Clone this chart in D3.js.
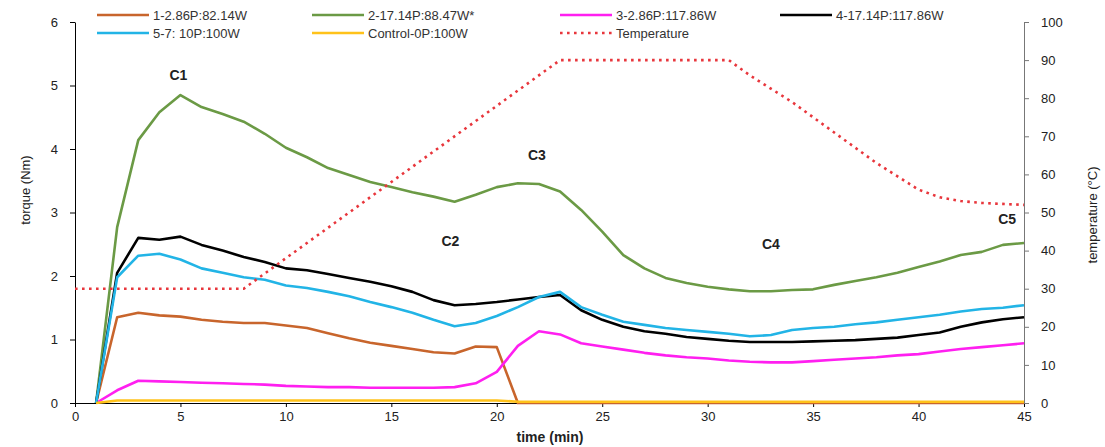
<!DOCTYPE html>
<html>
<head>
<meta charset="utf-8">
<script src="https://cdn.jsdelivr.net/npm/d3@7"></script>
<style>
  body { margin: 0; background: #fff; }
  text { font-family: "Liberation Sans", Arial, sans-serif; }
  .axis path, .axis line { stroke: #000; }
  .axis text { font-size: 13px; fill: #222; }
  .raxis path, .raxis line { stroke: #777; }
</style>
</head>
<body>
<div id="chart"></div>
<script>

// data (time in min, torque in Nm, temperature in °C)
const time = [1,2,3,4,5,6,7,8,9,10,11,12,13,14,15,16,17,18,19,20,21,22,23,24,25,26,27,28,29,30,31,32,33,34,35,36,37,38,39,40,41,42,43,44,45];

const s1 = [0,1.35,1.42,1.38,1.36,1.31,1.28,1.26,1.26,1.22,1.18,1.10,1.02,0.95,0.90,0.85,0.80,0.78,0.89,0.88,0,0,0,0,0,0,0,0,0,0,0,0,0,0,0,0,0,0,0,0,0,0,0,0,0];
const s2 = [0,2.77,4.14,4.58,4.85,4.66,4.55,4.43,4.24,4.02,3.87,3.70,3.59,3.48,3.40,3.32,3.25,3.17,3.28,3.40,3.46,3.45,3.33,3.04,2.70,2.33,2.12,1.97,1.89,1.83,1.79,1.76,1.76,1.78,1.79,1.86,1.92,1.98,2.05,2.14,2.23,2.33,2.38,2.49,2.52];
const s3 = [0,0.20,0.35,0.34,0.33,0.32,0.31,0.30,0.29,0.27,0.26,0.25,0.25,0.24,0.24,0.24,0.24,0.25,0.31,0.49,0.90,1.13,1.08,0.94,0.89,0.84,0.79,0.75,0.72,0.70,0.67,0.65,0.64,0.64,0.66,0.68,0.70,0.72,0.75,0.77,0.81,0.85,0.88,0.91,0.94];
const s4 = [0,2.05,2.60,2.57,2.62,2.49,2.40,2.30,2.22,2.12,2.09,2.03,1.97,1.91,1.84,1.75,1.62,1.54,1.56,1.59,1.63,1.67,1.70,1.46,1.31,1.20,1.13,1.09,1.04,1.01,0.98,0.96,0.96,0.96,0.97,0.98,0.99,1.01,1.03,1.07,1.11,1.20,1.27,1.32,1.35];
const s5 = [0,1.98,2.32,2.35,2.26,2.12,2.05,1.98,1.94,1.85,1.81,1.75,1.68,1.59,1.51,1.42,1.31,1.21,1.26,1.37,1.51,1.67,1.75,1.51,1.39,1.28,1.23,1.18,1.15,1.12,1.09,1.05,1.07,1.15,1.18,1.20,1.24,1.27,1.31,1.35,1.39,1.44,1.48,1.50,1.54];
const control = [0,0.04,0.04,0.04,0.04,0.04,0.04,0.04,0.04,0.04,0.04,0.04,0.04,0.04,0.04,0.04,0.04,0.04,0.04,0.04,0.02,0.02,0.02,0.02,0.02,0.02,0.02,0.02,0.02,0.02,0.02,0.02,0.02,0.02,0.02,0.02,0.02,0.02,0.02,0.02,0.02,0.02,0.02,0.02,0.02];

const tempTime = [0,8,23,31,32,34,36,38,40,41,42,43,45];
const tempVals = [30,30,90,90,86,79,71,63,56,54,53,52.5,52];

const seriesNames = ["1-2.86P:82.14W","2-17.14P:88.47W*","3-2.86P:117.86W","4-17.14P:117.86W","5-7: 10P:100W","Control-0P:100W"];
const seriesColors = ["#c8652c","#6b9a45","#ff1ff0","#000000","#22b4e6","#ffc21a"];
const seriesData = [s1, s2, s3, s4, s5, control];
const tempName = "Temperature";
const tempColor = "#e8363c";

const xTicks = [0,5,10,15,20,25,30,35,40,45];
const yTicks = [0,1,2,3,4,5,6];
const y2Ticks = [0,10,20,30,40,50,60,70,80,90,100];

const cycleLabels = ["C1","C2","C3","C4","C5"];
const cycleX = [4.9, 17.8, 21.9, 33.0, 44.2];
const cycleY = [5.08, 2.47, 3.82, 2.42, 2.82];

// constants for plot design
const FRAME_WIDTH = 1105;
const FRAME_HEIGHT = 447;
const MARGINS = {left: 75, right: 81, top: 22, bottom: 44};
const VIS_WIDTH = FRAME_WIDTH - MARGINS.left - MARGINS.right;
const VIS_HEIGHT = FRAME_HEIGHT - MARGINS.top - MARGINS.bottom;

// scales
const xScale = d3.scaleLinear().domain([0, 45]).range([0, VIS_WIDTH]);
const yScale = d3.scaleLinear().domain([0, 6]).range([VIS_HEIGHT, 0]);
const y2Scale = d3.scaleLinear().domain([0, 100]).range([VIS_HEIGHT, 0]);

const FRAME = d3.select("#chart")
  .append("svg")
    .attr("width", FRAME_WIDTH)
    .attr("height", FRAME_HEIGHT);

const VIS = FRAME.append("g")
  .attr("transform", "translate(" + MARGINS.left + "," + MARGINS.top + ")");

// axes
VIS.append("g")
  .attr("class", "axis")
  .attr("transform", "translate(0," + VIS_HEIGHT + ")")
  .call(d3.axisBottom(xScale).tickValues(xTicks).tickFormat(d3.format("d"))
    .tickSize(4).tickSizeOuter(0).tickPadding(5));

VIS.append("g")
  .attr("class", "axis")
  .call(d3.axisLeft(yScale).tickValues(yTicks).tickFormat(d3.format("d"))
    .tickSize(5).tickSizeOuter(0).tickPadding(12));

VIS.append("g")
  .attr("class", "axis raxis")
  .attr("transform", "translate(" + VIS_WIDTH + ",0)")
  .call(d3.axisRight(y2Scale).tickValues(y2Ticks).tickFormat(d3.format("d"))
    .tickSize(5).tickSizeOuter(0).tickPadding(12));

// torque lines
const torqueLine = d3.line()
  .x((d, i) => xScale(time[i]))
  .y((d) => yScale(d));

seriesData.forEach((vals, k) => {
  VIS.append("path")
    .datum(vals)
    .attr("d", torqueLine)
    .attr("fill", "none")
    .attr("stroke", seriesColors[k])
    .attr("stroke-width", 2.6)
    .attr("stroke-linejoin", "round");
});

// temperature line
const tempLine = d3.line()
  .x((d, i) => xScale(tempTime[i]))
  .y((d) => y2Scale(d));

VIS.append("path")
  .datum(tempVals)
  .attr("d", tempLine)
  .attr("fill", "none")
  .attr("stroke", tempColor)
  .attr("stroke-width", 2.6)
  .attr("stroke-dasharray", "2.6,4.4");

// cycle labels
cycleLabels.forEach((lab, i) => {
  VIS.append("text")
    .attr("x", xScale(cycleX[i]))
    .attr("y", yScale(cycleY[i]))
    .attr("text-anchor", "middle")
    .attr("font-size", "14px")
    .attr("font-weight", "bold")
    .attr("fill", "#222")
    .text(lab);
});

// axis titles
FRAME.append("text")
  .attr("x", 550)
  .attr("y", 442)
  .attr("text-anchor", "middle")
  .attr("font-size", "14px")
  .attr("font-weight", "bold")
  .attr("fill", "#222")
  .text("time (min)");

FRAME.append("text")
  .attr("transform", "translate(30,190) rotate(-90)")
  .attr("text-anchor", "middle")
  .attr("font-size", "13px")
  .attr("fill", "#222")
  .text("torque (Nm)");

FRAME.append("text")
  .attr("transform", "translate(1097,215) rotate(-90)")
  .attr("text-anchor", "middle")
  .attr("font-size", "13px")
  .attr("fill", "#222")
  .text("temperature (°C)");

// legend
const legendX = [97, 312, 560, 780, 97, 312, 560];
const legendY = [15, 15, 15, 15, 33, 33, 33];
const legendNames = seriesNames.concat([tempName]);
const legendColors = seriesColors.concat([tempColor]);

legendNames.forEach((name, i) => {
  const g = FRAME.append("g")
    .attr("transform", "translate(" + legendX[i] + "," + legendY[i] + ")");
  g.append("line")
    .attr("x1", 0).attr("x2", 52)
    .attr("y1", 0).attr("y2", 0)
    .attr("stroke", legendColors[i])
    .attr("stroke-width", 2.6)
    .attr("stroke-dasharray", i === 6 ? "2.6,4.4" : null);
  g.append("text")
    .attr("x", 56)
    .attr("y", 5)
    .attr("font-size", "13px")
    .attr("fill", "#333")
    .text(name);
});

</script>
</body>
</html>
